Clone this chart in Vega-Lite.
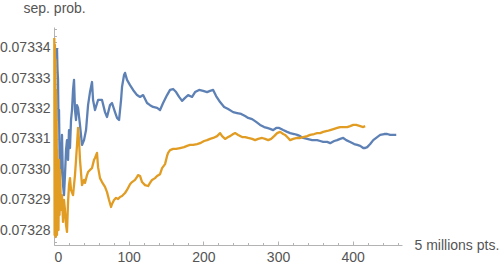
{
  "$schema": "https://vega.github.io/schema/vega-lite/v6.json",
  "autosize": "none",
  "width": 348,
  "height": 218,
  "padding": {"left": 54, "top": 27, "right": 98, "bottom": 25},
  "background": "white",
  "config": {
    "font": "Liberation Sans",
    "view": {"stroke": null},
    "axis": {
      "grid": false,
      "labelFont": "Liberation Sans",
      "labelFontSize": 14,
      "labelColor": "#555555",
      "titleFont": "Liberation Sans",
      "titleFontSize": 14,
      "titleFontWeight": "normal",
      "titleColor": "#555555",
      "domainColor": "#b3b3b3",
      "tickColor": "#b3b3b3",
      "domainWidth": 1,
      "tickWidth": 1
    }
  },
  "data": {
    "values": [
      {"run": "A", "pts": 4.0, "p": 0.0733399},
      {"run": "A", "pts": 4.7, "p": 0.0733327},
      {"run": "A", "pts": 5.4, "p": 0.0733294},
      {"run": "A", "pts": 6.0, "p": 0.0733162},
      {"run": "A", "pts": 6.7, "p": 0.0733195},
      {"run": "A", "pts": 7.4, "p": 0.0733063},
      {"run": "A", "pts": 8.0, "p": 0.0732965},
      {"run": "A", "pts": 9.4, "p": 0.0733014},
      {"run": "A", "pts": 10.7, "p": 0.0733113},
      {"run": "A", "pts": 12.1, "p": 0.0732948},
      {"run": "A", "pts": 13.4, "p": 0.0732915},
      {"run": "A", "pts": 14.7, "p": 0.0732981},
      {"run": "A", "pts": 16.1, "p": 0.0733063},
      {"run": "A", "pts": 17.4, "p": 0.0733096},
      {"run": "A", "pts": 18.8, "p": 0.0733031},
      {"run": "A", "pts": 20.1, "p": 0.0733129},
      {"run": "A", "pts": 21.4, "p": 0.073307},
      {"run": "A", "pts": 22.8, "p": 0.0733162},
      {"run": "A", "pts": 24.1, "p": 0.0733195},
      {"run": "A", "pts": 25.5, "p": 0.0733261},
      {"run": "A", "pts": 26.8, "p": 0.0733294},
      {"run": "A", "pts": 28.1, "p": 0.0733195},
      {"run": "A", "pts": 29.5, "p": 0.0733162},
      {"run": "A", "pts": 30.8, "p": 0.0733211},
      {"run": "A", "pts": 32.2, "p": 0.0733202},
      {"run": "A", "pts": 34.8, "p": 0.0733146},
      {"run": "A", "pts": 37.5, "p": 0.073308},
      {"run": "A", "pts": 40.2, "p": 0.0733096},
      {"run": "A", "pts": 42.9, "p": 0.0733129},
      {"run": "A", "pts": 45.6, "p": 0.0733211},
      {"run": "A", "pts": 48.2, "p": 0.0733254},
      {"run": "A", "pts": 50.9, "p": 0.0733287},
      {"run": "A", "pts": 52.3, "p": 0.0733228},
      {"run": "A", "pts": 54.9, "p": 0.0733195},
      {"run": "A", "pts": 59.0, "p": 0.0733228},
      {"run": "A", "pts": 64.3, "p": 0.0733228},
      {"run": "A", "pts": 68.3, "p": 0.0733188},
      {"run": "A", "pts": 71.0, "p": 0.0733172},
      {"run": "A", "pts": 75.0, "p": 0.0733211},
      {"run": "A", "pts": 77.7, "p": 0.0733218},
      {"run": "A", "pts": 81.7, "p": 0.0733188},
      {"run": "A", "pts": 84.4, "p": 0.0733169},
      {"run": "A", "pts": 87.1, "p": 0.0733162},
      {"run": "A", "pts": 89.8, "p": 0.0733228},
      {"run": "A", "pts": 91.1, "p": 0.0733271},
      {"run": "A", "pts": 93.8, "p": 0.073331},
      {"run": "A", "pts": 95.1, "p": 0.0733317},
      {"run": "A", "pts": 97.8, "p": 0.0733294},
      {"run": "A", "pts": 101.8, "p": 0.0733277},
      {"run": "A", "pts": 105.9, "p": 0.0733261},
      {"run": "A", "pts": 111.2, "p": 0.0733244},
      {"run": "A", "pts": 115.2, "p": 0.0733238},
      {"run": "A", "pts": 119.3, "p": 0.0733244},
      {"run": "A", "pts": 124.6, "p": 0.0733218},
      {"run": "A", "pts": 128.6, "p": 0.0733211},
      {"run": "A", "pts": 132.7, "p": 0.0733205},
      {"run": "A", "pts": 138.0, "p": 0.0733202},
      {"run": "A", "pts": 142.0, "p": 0.0733195},
      {"run": "A", "pts": 146.1, "p": 0.0733218},
      {"run": "A", "pts": 151.4, "p": 0.0733244},
      {"run": "A", "pts": 155.4, "p": 0.0733261},
      {"run": "A", "pts": 159.5, "p": 0.0733264},
      {"run": "A", "pts": 163.5, "p": 0.0733254},
      {"run": "A", "pts": 167.5, "p": 0.0733238},
      {"run": "A", "pts": 171.5, "p": 0.0733225},
      {"run": "A", "pts": 175.5, "p": 0.0733235},
      {"run": "A", "pts": 179.6, "p": 0.0733244},
      {"run": "A", "pts": 184.9, "p": 0.0733238},
      {"run": "A", "pts": 188.9, "p": 0.0733254},
      {"run": "A", "pts": 194.3, "p": 0.0733261},
      {"run": "A", "pts": 199.7, "p": 0.0733258},
      {"run": "A", "pts": 205.0, "p": 0.0733254},
      {"run": "A", "pts": 209.0, "p": 0.0733258},
      {"run": "A", "pts": 213.1, "p": 0.0733261},
      {"run": "A", "pts": 217.1, "p": 0.0733241},
      {"run": "A", "pts": 222.4, "p": 0.0733221},
      {"run": "A", "pts": 227.8, "p": 0.0733205},
      {"run": "A", "pts": 233.2, "p": 0.0733198},
      {"run": "A", "pts": 239.9, "p": 0.0733188},
      {"run": "A", "pts": 245.2, "p": 0.0733185},
      {"run": "A", "pts": 250.6, "p": 0.0733182},
      {"run": "A", "pts": 255.9, "p": 0.0733175},
      {"run": "A", "pts": 260.0, "p": 0.0733169},
      {"run": "A", "pts": 265.3, "p": 0.0733165},
      {"run": "A", "pts": 270.7, "p": 0.0733156},
      {"run": "A", "pts": 276.0, "p": 0.0733146},
      {"run": "A", "pts": 281.4, "p": 0.0733139},
      {"run": "A", "pts": 285.4, "p": 0.0733136},
      {"run": "A", "pts": 289.4, "p": 0.0733133},
      {"run": "A", "pts": 293.5, "p": 0.0733129},
      {"run": "A", "pts": 297.5, "p": 0.0733136},
      {"run": "A", "pts": 301.5, "p": 0.0733136},
      {"run": "A", "pts": 306.9, "p": 0.0733129},
      {"run": "A", "pts": 312.2, "p": 0.0733123},
      {"run": "A", "pts": 316.2, "p": 0.0733119},
      {"run": "A", "pts": 321.6, "p": 0.0733116},
      {"run": "A", "pts": 325.6, "p": 0.0733113},
      {"run": "A", "pts": 329.6, "p": 0.0733109},
      {"run": "A", "pts": 333.7, "p": 0.0733103},
      {"run": "A", "pts": 339.0, "p": 0.07331},
      {"run": "A", "pts": 345.7, "p": 0.0733096},
      {"run": "A", "pts": 352.4, "p": 0.0733096},
      {"run": "A", "pts": 356.4, "p": 0.0733093},
      {"run": "A", "pts": 360.5, "p": 0.073309},
      {"run": "A", "pts": 365.8, "p": 0.073309},
      {"run": "A", "pts": 369.8, "p": 0.0733086},
      {"run": "A", "pts": 375.2, "p": 0.0733093},
      {"run": "A", "pts": 379.2, "p": 0.0733096},
      {"run": "A", "pts": 383.2, "p": 0.07331},
      {"run": "A", "pts": 387.3, "p": 0.0733103},
      {"run": "A", "pts": 391.3, "p": 0.0733096},
      {"run": "A", "pts": 396.6, "p": 0.073309},
      {"run": "A", "pts": 402.0, "p": 0.0733083},
      {"run": "A", "pts": 406.0, "p": 0.073308},
      {"run": "A", "pts": 410.0, "p": 0.0733077},
      {"run": "A", "pts": 414.1, "p": 0.073307},
      {"run": "A", "pts": 416.7, "p": 0.073307},
      {"run": "A", "pts": 419.4, "p": 0.0733073},
      {"run": "A", "pts": 423.4, "p": 0.0733083},
      {"run": "A", "pts": 427.5, "p": 0.0733096},
      {"run": "A", "pts": 432.8, "p": 0.0733106},
      {"run": "A", "pts": 436.8, "p": 0.0733113},
      {"run": "A", "pts": 442.2, "p": 0.0733116},
      {"run": "A", "pts": 446.2, "p": 0.0733116},
      {"run": "A", "pts": 450.2, "p": 0.0733113},
      {"run": "A", "pts": 454.3, "p": 0.0733113},
      {"run": "A", "pts": 458.3, "p": 0.0733113},

      {"run": "B", "pts": 0.4, "p": 0.0733432},
      {"run": "B", "pts": 0.8, "p": 0.0732784},
      {"run": "B", "pts": 1.2, "p": 0.0733409},
      {"run": "B", "pts": 1.6, "p": 0.07328},
      {"run": "B", "pts": 2.0, "p": 0.073336},
      {"run": "B", "pts": 2.4, "p": 0.0732777},
      {"run": "B", "pts": 2.8, "p": 0.0733261},
      {"run": "B", "pts": 3.2, "p": 0.0732817},
      {"run": "B", "pts": 3.6, "p": 0.0733162},
      {"run": "B", "pts": 4.0, "p": 0.0732784},
      {"run": "B", "pts": 4.4, "p": 0.0733063},
      {"run": "B", "pts": 4.8, "p": 0.0732833},
      {"run": "B", "pts": 5.4, "p": 0.0732981},
      {"run": "B", "pts": 6.0, "p": 0.07328},
      {"run": "B", "pts": 6.7, "p": 0.0733031},
      {"run": "B", "pts": 7.4, "p": 0.073285},
      {"run": "B", "pts": 8.0, "p": 0.0732998},
      {"run": "B", "pts": 9.4, "p": 0.0732866},
      {"run": "B", "pts": 10.7, "p": 0.0732915},
      {"run": "B", "pts": 12.1, "p": 0.0732827},
      {"run": "B", "pts": 13.4, "p": 0.0732899},
      {"run": "B", "pts": 14.7, "p": 0.0732866},
      {"run": "B", "pts": 16.1, "p": 0.0732817},
      {"run": "B", "pts": 17.4, "p": 0.0732794},
      {"run": "B", "pts": 18.8, "p": 0.0732892},
      {"run": "B", "pts": 20.1, "p": 0.0732948},
      {"run": "B", "pts": 21.4, "p": 0.0732971},
      {"run": "B", "pts": 22.8, "p": 0.0732932},
      {"run": "B", "pts": 25.5, "p": 0.0732915},
      {"run": "B", "pts": 26.8, "p": 0.0732948},
      {"run": "B", "pts": 28.1, "p": 0.0732981},
      {"run": "B", "pts": 29.5, "p": 0.0733031},
      {"run": "B", "pts": 30.8, "p": 0.073308},
      {"run": "B", "pts": 32.2, "p": 0.0733136},
      {"run": "B", "pts": 33.5, "p": 0.0733096},
      {"run": "B", "pts": 34.8, "p": 0.0733031},
      {"run": "B", "pts": 37.5, "p": 0.0732948},
      {"run": "B", "pts": 40.2, "p": 0.0732965},
      {"run": "B", "pts": 41.5, "p": 0.0732955},
      {"run": "B", "pts": 44.2, "p": 0.0732981},
      {"run": "B", "pts": 45.6, "p": 0.0732991},
      {"run": "B", "pts": 48.2, "p": 0.0732998},
      {"run": "B", "pts": 50.9, "p": 0.0733004},
      {"run": "B", "pts": 53.6, "p": 0.0733031},
      {"run": "B", "pts": 54.9, "p": 0.0733037},
      {"run": "B", "pts": 57.6, "p": 0.0733054},
      {"run": "B", "pts": 59.0, "p": 0.0733007},
      {"run": "B", "pts": 61.6, "p": 0.0732971},
      {"run": "B", "pts": 64.3, "p": 0.0732958},
      {"run": "B", "pts": 68.3, "p": 0.0732942},
      {"run": "B", "pts": 71.0, "p": 0.0732925},
      {"run": "B", "pts": 73.7, "p": 0.0732899},
      {"run": "B", "pts": 76.4, "p": 0.0732876},
      {"run": "B", "pts": 77.7, "p": 0.0732886},
      {"run": "B", "pts": 80.4, "p": 0.0732899},
      {"run": "B", "pts": 83.1, "p": 0.0732906},
      {"run": "B", "pts": 85.8, "p": 0.0732902},
      {"run": "B", "pts": 88.4, "p": 0.0732909},
      {"run": "B", "pts": 91.1, "p": 0.0732912},
      {"run": "B", "pts": 95.1, "p": 0.0732922},
      {"run": "B", "pts": 97.8, "p": 0.0732932},
      {"run": "B", "pts": 101.8, "p": 0.0732951},
      {"run": "B", "pts": 104.5, "p": 0.0732958},
      {"run": "B", "pts": 108.5, "p": 0.0732965},
      {"run": "B", "pts": 111.2, "p": 0.0732975},
      {"run": "B", "pts": 112.6, "p": 0.0732981},
      {"run": "B", "pts": 115.2, "p": 0.0732978},
      {"run": "B", "pts": 117.9, "p": 0.0732958},
      {"run": "B", "pts": 121.9, "p": 0.0732948},
      {"run": "B", "pts": 126.0, "p": 0.0732945},
      {"run": "B", "pts": 128.6, "p": 0.0732955},
      {"run": "B", "pts": 131.3, "p": 0.0732965},
      {"run": "B", "pts": 135.3, "p": 0.0732971},
      {"run": "B", "pts": 138.0, "p": 0.0732978},
      {"run": "B", "pts": 142.0, "p": 0.0732984},
      {"run": "B", "pts": 144.7, "p": 0.0733004},
      {"run": "B", "pts": 148.7, "p": 0.0733017},
      {"run": "B", "pts": 151.4, "p": 0.0733044},
      {"run": "B", "pts": 152.8, "p": 0.0733054},
      {"run": "B", "pts": 155.4, "p": 0.0733063},
      {"run": "B", "pts": 159.5, "p": 0.0733067},
      {"run": "B", "pts": 163.5, "p": 0.0733067},
      {"run": "B", "pts": 168.8, "p": 0.073307},
      {"run": "B", "pts": 174.2, "p": 0.0733073},
      {"run": "B", "pts": 178.2, "p": 0.0733077},
      {"run": "B", "pts": 182.2, "p": 0.073308},
      {"run": "B", "pts": 186.3, "p": 0.073308},
      {"run": "B", "pts": 191.6, "p": 0.0733083},
      {"run": "B", "pts": 195.6, "p": 0.0733086},
      {"run": "B", "pts": 201.0, "p": 0.0733093},
      {"run": "B", "pts": 205.0, "p": 0.0733096},
      {"run": "B", "pts": 209.0, "p": 0.07331},
      {"run": "B", "pts": 213.1, "p": 0.0733103},
      {"run": "B", "pts": 218.4, "p": 0.0733109},
      {"run": "B", "pts": 222.4, "p": 0.0733119},
      {"run": "B", "pts": 225.1, "p": 0.0733109},
      {"run": "B", "pts": 229.1, "p": 0.07331},
      {"run": "B", "pts": 233.2, "p": 0.0733106},
      {"run": "B", "pts": 235.8, "p": 0.0733109},
      {"run": "B", "pts": 239.9, "p": 0.0733116},
      {"run": "B", "pts": 242.5, "p": 0.0733119},
      {"run": "B", "pts": 246.6, "p": 0.0733113},
      {"run": "B", "pts": 251.9, "p": 0.0733106},
      {"run": "B", "pts": 255.9, "p": 0.0733106},
      {"run": "B", "pts": 260.0, "p": 0.0733103},
      {"run": "B", "pts": 265.3, "p": 0.07331},
      {"run": "B", "pts": 269.3, "p": 0.0733096},
      {"run": "B", "pts": 273.4, "p": 0.07331},
      {"run": "B", "pts": 278.7, "p": 0.0733103},
      {"run": "B", "pts": 282.7, "p": 0.07331},
      {"run": "B", "pts": 286.8, "p": 0.0733096},
      {"run": "B", "pts": 290.8, "p": 0.07331},
      {"run": "B", "pts": 294.8, "p": 0.0733109},
      {"run": "B", "pts": 298.8, "p": 0.0733119},
      {"run": "B", "pts": 302.8, "p": 0.0733123},
      {"run": "B", "pts": 306.9, "p": 0.0733116},
      {"run": "B", "pts": 309.5, "p": 0.0733113},
      {"run": "B", "pts": 313.6, "p": 0.0733103},
      {"run": "B", "pts": 316.2, "p": 0.0733096},
      {"run": "B", "pts": 320.3, "p": 0.07331},
      {"run": "B", "pts": 325.6, "p": 0.0733103},
      {"run": "B", "pts": 329.6, "p": 0.0733103},
      {"run": "B", "pts": 333.7, "p": 0.0733106},
      {"run": "B", "pts": 339.0, "p": 0.0733109},
      {"run": "B", "pts": 343.0, "p": 0.0733113},
      {"run": "B", "pts": 348.4, "p": 0.0733116},
      {"run": "B", "pts": 352.4, "p": 0.0733119},
      {"run": "B", "pts": 356.4, "p": 0.0733119},
      {"run": "B", "pts": 360.5, "p": 0.0733123},
      {"run": "B", "pts": 365.8, "p": 0.0733126},
      {"run": "B", "pts": 369.8, "p": 0.0733129},
      {"run": "B", "pts": 375.2, "p": 0.0733133},
      {"run": "B", "pts": 379.2, "p": 0.0733136},
      {"run": "B", "pts": 383.2, "p": 0.0733139},
      {"run": "B", "pts": 387.3, "p": 0.0733139},
      {"run": "B", "pts": 392.6, "p": 0.0733139},
      {"run": "B", "pts": 396.6, "p": 0.0733142},
      {"run": "B", "pts": 400.7, "p": 0.0733146},
      {"run": "B", "pts": 404.7, "p": 0.0733146},
      {"run": "B", "pts": 410.0, "p": 0.0733142},
      {"run": "B", "pts": 414.1, "p": 0.0733139},
      {"run": "B", "pts": 416.7, "p": 0.0733142}
    ]
  },
  "resolve": {"axis": {"x": "independent", "y": "independent"}},
  "layer": [
    {
      "mark": {"type": "line", "opacity": 0},
      "encoding": {
        "x": {
          "field": "pts", "type": "quantitative",
          "scale": {"domain": [0, 466], "nice": false, "zero": false},
          "axis": {
            "orient": "bottom",
            "values": [20, 40, 60, 80, 120, 140, 160, 180, 220, 240, 260, 280, 320, 340, 360, 380, 420, 440, 460],
            "labels": false, "domain": false, "tickSize": -2.5, "title": null
          }
        },
        "y": {
          "field": "p", "type": "quantitative",
          "scale": {"domain": [0.0732751, 0.0733468], "nice": false, "zero": false},
          "axis": {
            "orient": "left",
            "values": [0.073276, 0.073278, 0.073282, 0.073284, 0.073286, 0.073288, 0.073292, 0.073294, 0.073296, 0.073298, 0.073302, 0.073304, 0.073306, 0.073308, 0.073312, 0.073314, 0.073316, 0.073318, 0.073322, 0.073324, 0.073326, 0.073328, 0.073332, 0.073334, 0.073336, 0.073338, 0.073342, 0.073344, 0.073346],
            "labels": false, "domain": false, "tickSize": -2.5, "title": null
          }
        },
        "detail": {"field": "run"}
      }
    },
    {
      "mark": {"type": "line", "strokeWidth": 2.3, "strokeJoin": "round"},
      "encoding": {
        "x": {
          "field": "pts", "type": "quantitative",
          "scale": {"domain": [0, 466], "nice": false, "zero": false},
          "axis": {
            "orient": "bottom",
            "values": [0, 100, 200, 300, 400],
            "tickSize": -4, "labelPadding": 9,
            "title": "5 millions pts.",
            "titleX": 360, "titleY": 4, "titleAlign": "left", "titleAnchor": "start",
            "titleBaseline": "alphabetic", "titleAngle": 0
          }
        },
        "y": {
          "field": "p", "type": "quantitative",
          "scale": {"domain": [0.0732751, 0.0733468], "nice": false, "zero": false},
          "axis": {
            "orient": "left",
            "values": [0.07328, 0.07329, 0.0733, 0.07331, 0.07332, 0.07333, 0.07334],
            "format": ".5f",
            "tickSize": -4, "labelPadding": 8,
            "title": "sep. prob.",
            "titleX": -31, "titleY": -14.5, "titleAlign": "left", "titleAnchor": "start",
            "titleBaseline": "alphabetic", "titleAngle": 0
          }
        },
        "color": {
          "field": "run", "type": "nominal",
          "scale": {"domain": ["A", "B"], "range": ["#5E81B5", "#E19C24"]},
          "legend": null
        }
      }
    }
  ]
}
